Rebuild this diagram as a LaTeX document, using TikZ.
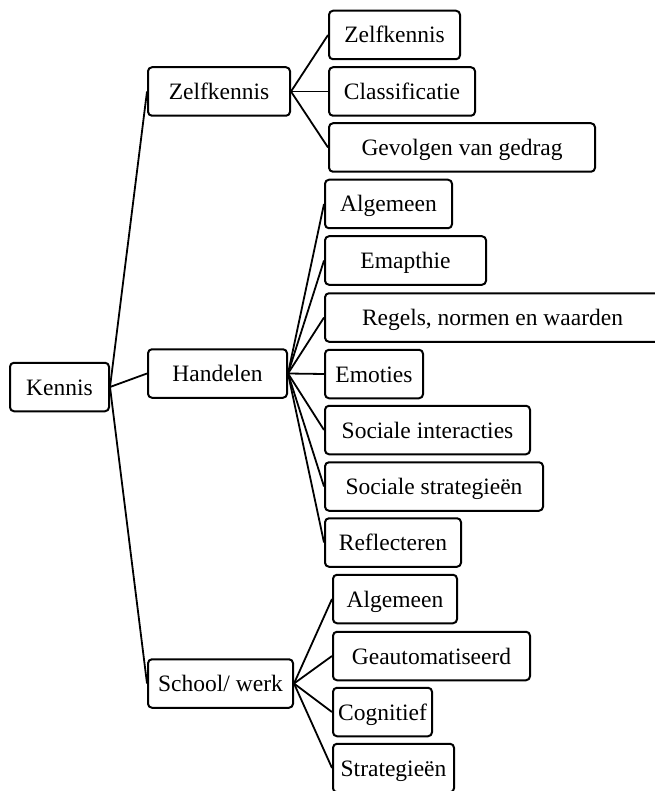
\documentclass[tikz,border=0pt]{standalone}
\usepackage{fontspec}
\setmainfont{Liberation Serif}
\usetikzlibrary{positioning}

\tikzset{
  box/.style={draw, line width=2pt, rounded corners=4pt, inner sep=0pt,
    minimum height=48.5pt, text height=20pt, text depth=4pt,
    font=\fontsize{23.5}{28}\selectfont},
  link/.style={line width=1.8pt},
}

\begin{document}
\begin{tikzpicture}[x=1pt,y=-1pt]
    \useasboundingbox (0,0) rectangle (654,791);

    % root and first level
    \node[box, minimum width=99pt]  (kennis)  at (59.5,387)   {Kennis};
    \node[box, minimum width=142pt] (zelf)    at (219,91.5)   {Zelfkennis};
    \node[box, minimum width=139pt] (handel)  at (217.5,373.5) {Handelen};
    \node[box, minimum width=145pt] (school)  at (220.5,683.5) {School/ werk};

    % Zelfkennis
    \node[box, minimum width=131pt] (zkennis) at (394.5,35)   {Zelfkennis};
    \node[box, minimum width=146pt] (zclass)  at (402,91.5)   {Classificatie};
    \node[box, minimum width=266pt] (zgevolg) at (462,147.5)  {Gevolgen van gedrag};

    % Handelen
    \node[box, minimum width=127pt] (halg)    at (388.5,204)  {Algemeen};
    \node[box, minimum width=161pt] (hemp)    at (405.5,260.5) {Emapthie};
    \node[box, minimum width=335pt] (hregel)  at (492.5,317.5) {Regels, normen en waarden};
    \node[box, minimum width=98pt]  (hemo)    at (374,374)    {Emoties};
    \node[box, minimum width=205pt] (hinter)  at (427.5,430)  {Sociale interacties};
    \node[box, minimum width=218pt] (hstrat)  at (434,486.5)  {Sociale strategieën};
    \node[box, minimum width=136pt] (hrefl)   at (393,542.5)  {Reflecteren};

    % School/ werk
    \node[box, minimum width=124pt] (salg)    at (395,599)    {Algemeen};
    \node[box, minimum width=197pt] (sauto)   at (431.5,656)  {Geautomatiseerd};
    \node[box, minimum width=99pt]  (scogn)   at (382.5,712)  {Cognitief};
    \node[box, minimum width=121pt] (sstrat)  at (393.5,768)  {Strategieën};

    % connectors
    \foreach \c in {zelf,handel,school}
        \draw[link] (kennis.east) -- (\c.west);
    \foreach \c in {zkennis,zclass,zgevolg}
        \draw[link] (zelf.east) -- (\c.west);
    \foreach \c in {halg,hemp,hregel,hemo,hinter,hstrat,hrefl}
        \draw[link] (handel.east) -- (\c.west);
    \foreach \c in {salg,sauto,scogn,sstrat}
        \draw[link] (school.east) -- (\c.west);
\end{tikzpicture}
\end{document}
